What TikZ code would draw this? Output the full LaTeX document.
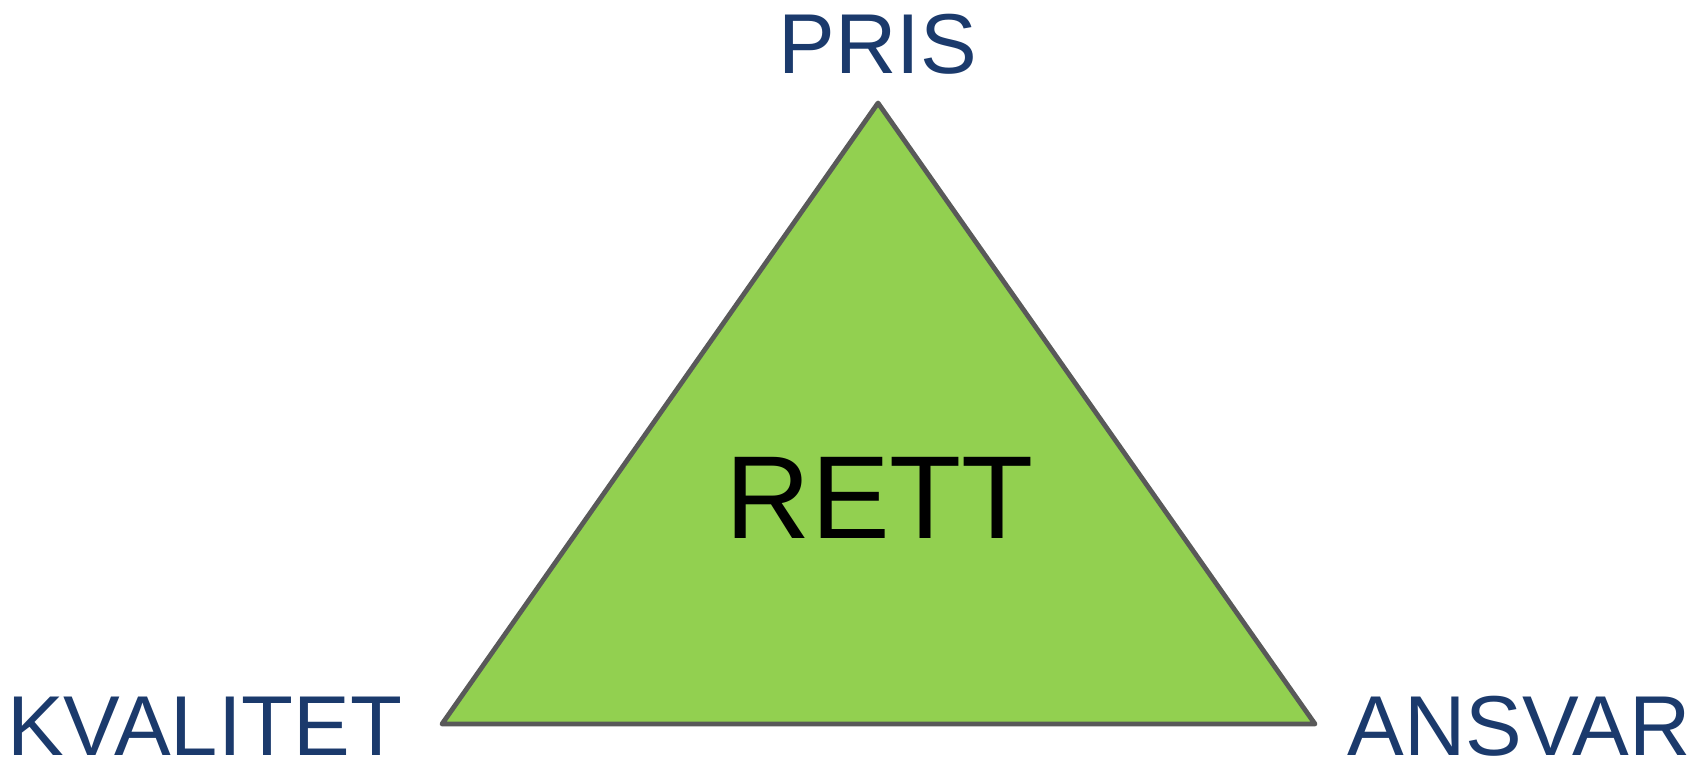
\documentclass[tikz,border=0pt]{standalone}
\usepackage{fontspec}
\setmainfont{Liberation Sans}
\usetikzlibrary{calc}
\definecolor{darkblue}{HTML}{1B3A6C}
\definecolor{leafgreen}{HTML}{92D050}
\definecolor{edgegray}{HTML}{595959}
\tikzset{corner/.style={inner sep=0pt,text depth=0pt,darkblue,font=\fontsize{85}{85}\selectfont}}

\begin{document}
\begin{tikzpicture}[x=1pt,y=-1pt]
\useasboundingbox (0,0) rectangle (1702,761);
% Points of the triangle
\coordinate (top) at (878,103);
\coordinate (left) at (442,724);
\coordinate (right) at (1315,724);
% The triangle
\draw[line width=4.8pt,edgegray,fill=leafgreen,line join=round] (top) -- (left) -- (right) -- cycle;
% Text in the middle
\node[anchor=base,inner sep=0pt,font=\fontsize{118}{118}\selectfont] (rett) at (880,538) {RETT};
% Labels at the corners
\node[corner,anchor=base] (pris) at (878,73) {PRIS};
\node[corner,anchor=base west] (kvalitet) at (7,755) {KVALITET};
\node[corner,anchor=base east] (ansvar) at (1691,755) {ANSVAR};
\end{tikzpicture}
\end{document}
